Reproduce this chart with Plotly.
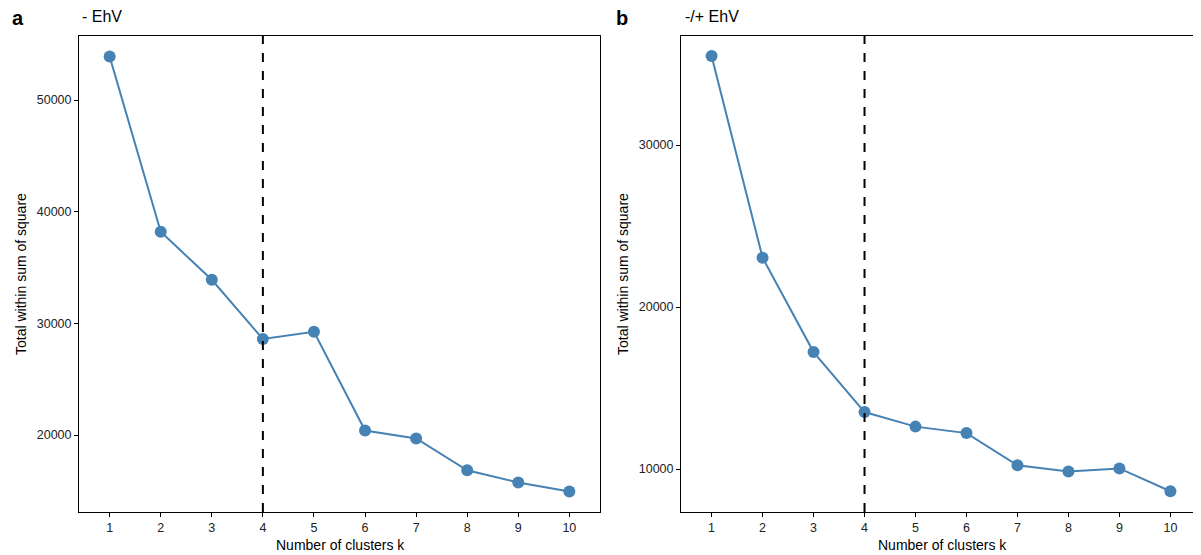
import plotly.graph_objects as go

k = [1, 2, 3, 4, 5, 6, 7, 8, 9, 10]
wss_minus = [53900, 38200, 33900, 28600, 29250, 20400, 19700, 16850, 15750, 14950]
wss_plusminus = [35500, 23050, 17220, 13520, 12620, 12220, 10230, 9850, 10040, 8630]
optimal_k = 4
panel_titles = ["- EhV", "-/+ EhV"]
panel_letters = ["a", "b"]
yticks_a = [20000, 30000, 40000, 50000]
yticks_b = [10000, 20000, 30000]

OFF = 8  # page body margin
W, H = 1201 - OFF, 555 - OFF
COLOR = "#4682B4"
FONT = "Liberation Sans, Arial, Helvetica, sans-serif"

def px(sx):
    return (sx - OFF) / W

TOP, BOT = 36 - OFF, 555 - 512
plot_h = H - TOP - BOT

def py(sy):
    return (H - BOT - (sy - OFF)) / plot_h

fig = go.Figure()
for i, (vals, xa, ya) in enumerate([(wss_minus, "x", "y"), (wss_plusminus, "x2", "y2")]):
    fig.add_trace(go.Scatter(x=k, y=vals, mode="lines+markers", xaxis=xa, yaxis=ya,
                             line=dict(color=COLOR, width=2),
                             marker=dict(color=COLOR, size=12), showlegend=False))
    fig.add_shape(type="line", x0=optimal_k, x1=optimal_k, y0=0, y1=1,
                  xref=xa, yref=f"{ya} domain",
                  line=dict(color="black", width=2, dash="dash"))

axis_common = dict(showline=True, linecolor="black", linewidth=1, mirror=True,
                   ticks="outside", ticklen=4, tickcolor="black", showgrid=False,
                   zeroline=False, tickfont=dict(family=FONT, size=12.5, color="#222"))

fig.update_layout(
    width=W, height=H, plot_bgcolor="white", paper_bgcolor="white",
    margin=dict(l=0, r=0, t=TOP, b=BOT),
    font=dict(family=FONT, color="black"),
    xaxis=dict(domain=[px(79), px(600)], range=[0.4, 10.6], tickvals=k, **axis_common),
    xaxis2=dict(domain=[px(681), 1.0], range=[0.4, 10.6], tickvals=k, anchor="y2", **axis_common),
    yaxis=dict(range=[13110, 55730], tickvals=yticks_a, tickformat="d", **axis_common),
    yaxis2=dict(range=[7350, 36730], tickvals=yticks_b, tickformat="d", anchor="x2", **axis_common),
)

ann = []
for i, (lx, tx) in enumerate([(18, 80), (622, 683)]):
    ann.append(dict(text=f"<b>{panel_letters[i]}</b>", x=px(lx), y=py(18), xref="paper", yref="paper",
                    xanchor="center", yanchor="middle", showarrow=False, font=dict(size=20, family=FONT)))
    ann.append(dict(text=panel_titles[i], x=px(tx), y=py(17), xref="paper", yref="paper",
                    xanchor="left", yanchor="middle", showarrow=False, font=dict(size=16, family=FONT)))
for cx, yx in [(340, 21), (942, 623)]:
    ann.append(dict(text="Number of clusters k", x=px(cx), y=py(545), xref="paper", yref="paper",
                    xanchor="center", yanchor="middle", showarrow=False, font=dict(size=14, family=FONT)))
    ann.append(dict(text="Total within sum of square", x=px(yx), y=0.5, xref="paper", yref="paper",
                    xanchor="center", yanchor="middle", textangle=-90, showarrow=False, font=dict(size=14, family=FONT)))
fig.update_layout(annotations=ann)

fig.write_html("out.html")
